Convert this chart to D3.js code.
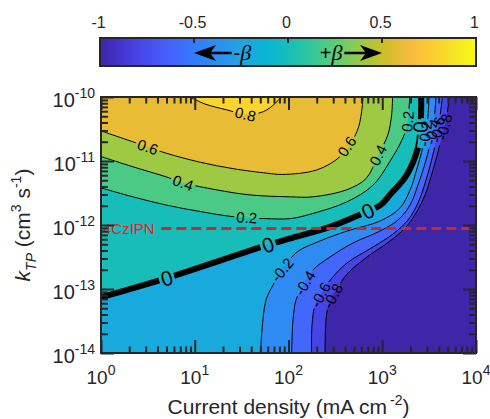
<!DOCTYPE html>
<html>
<head>
<meta charset="utf-8">
<script src="https://cdn.jsdelivr.net/npm/d3@7"></script>
<style>
  body { margin: 0; background: #fff; }
  svg { display: block; font-family: "Liberation Sans", Arial, sans-serif; }
</style>
</head>
<body>
<svg id="chart" width="490" height="419"></svg>
<script>
// ---- values ----
const levels = [-0.8, -0.6, -0.4, -0.2, 0, 0.2, 0.4, 0.6, 0.8];
const colorLimits = [-1, 1];
const cbTicks = [-1, -0.5, 0, 0.5, 1];
const cbTickLabels = ["-1", "-0.5", "0", "0.5", "1"];
const xDecades = [0, 1, 2, 3, 4];            // 10^n mA cm^-2
const yDecades = [-14, -13, -12, -11, -10];  // 10^n cm^3 s^-1

// contour lines, points are [log10 J, log10 kTP]
const lineM08 = [[2.389,-14],[2.400,-13.484],[2.432,-13.219],[2.507,-13.016],[2.635,-12.75],[2.837,-12.5],[3.083,-12.25],[3.243,-12.047],[3.360,-11.813],[3.456,-11.531],[3.541,-11.141],[3.627,-10.672],[3.690,-10.281],[3.712,-10]];
const lineM06 = [[2.247,-14],[2.251,-13.563],[2.283,-13.25],[2.357,-13.047],[2.464,-12.828],[2.624,-12.594],[2.901,-12.344],[3.115,-12.141],[3.275,-11.922],[3.381,-11.656],[3.467,-11.297],[3.552,-10.828],[3.610,-10.359],[3.642,-10]];
const lineM04 = [[2.034,-14],[2.048,-13.484],[2.080,-13.172],[2.144,-12.984],[2.261,-12.703],[2.443,-12.5],[2.688,-12.281],[2.976,-12.094],[3.168,-11.922],[3.296,-11.688],[3.381,-11.375],[3.467,-10.984],[3.540,-10.516],[3.573,-10]];
const lineM02 = [[1.703,-14],[1.717,-13.641],[1.760,-13.172],[1.835,-12.938],[1.931,-12.703],[2.091,-12.422],[2.336,-12.25],[2.624,-12.094],[2.976,-11.938],[3.189,-11.734],[3.296,-11.453],[3.381,-11.063],[3.450,-10.672],[3.488,-10.281],[3.498,-10]];
const lineZero = [[0,-13.13],[0.70,-12.83],[1.78,-12.31],[2.02,-12.21],[2.44,-12.03],[2.76,-11.84],[2.98,-11.69],[3.08,-11.53],[3.26,-11.22],[3.38,-10.80],[3.40,-10.62],[3.415,-10.20],[3.415,-10]];
const lineP02 = [[0,-11.42],[0.34,-11.56],[0.70,-11.69],[1.06,-11.79],[1.41,-11.87],[1.75,-11.90],[2.02,-11.90],[2.26,-11.82],[2.62,-11.64],[2.90,-11.38],[3.08,-11.01],[3.22,-10.64],[3.27,-10.39],[3.29,-10.08],[3.295,-10]];
const lineP04 = [[0,-10.93],[0.34,-11.09],[0.70,-11.25],[0.875,-11.34],[1.23,-11.45],[1.59,-11.53],[2.02,-11.56],[2.26,-11.56],[2.62,-11.45],[2.83,-11.27],[2.955,-10.91],[3.06,-10.59],[3.10,-10.28],[3.11,-10]];
const lineP06 = [[0,-10.53],[0.50,-10.78],[0.70,-10.88],[1.06,-11.02],[1.41,-11.12],[1.77,-11.19],[1.94,-11.21],[2.30,-11.14],[2.55,-10.93],[2.73,-10.54],[2.78,-10.23],[2.795,-10]];
const lineP08 = [[0.95,-10],[1.11,-10.11],[1.34,-10.20],[1.54,-10.27],[1.73,-10.23],[1.85,-10.11],[1.92,-10]];

// inline contour labels: [level, log10 J, log10 kTP]
const labelSpots = [
  [0.8, 1.54, -10.28],
  [0.6, 0.50, -10.78], [0.6, 2.62, -10.77],
  [0.4, 0.875, -11.34], [0.4, 2.955, -10.91],
  [0.2, 1.554, -11.92], [0.2, 3.275, -10.38],
  [0, 0.70, -12.83], [0, 1.78, -12.31], [0, 2.85, -11.79], [0, 3.41, -10.47],
  [-0.2, 1.93, -12.70], [-0.2, 3.49, -10.58],
  [-0.4, 2.18, -12.91], [-0.4, 3.56, -10.55],
  [-0.6, 2.34, -13.09], [-0.6, 3.63, -10.52],
  [-0.8, 2.49, -13.12], [-0.8, 3.70, -10.48]
];

// reference emitter line
const refK = 8.8e-13;
const refStartJ = 4.4;
const refName = "4CzIPN";

// ---- drawing ----
const svg = d3.select("#chart");
const W = +svg.attr("width"), H = +svg.attr("height");
const plotL = 101, plotR = 476, plotT = 97, plotB = 353;
const axisColor = "#262626";

const x = d3.scaleLog().domain([1e0, 1e4]).range([plotL, plotR]);
const y = d3.scaleLog().domain([1e-14, 1e-10]).range([plotB, plotT]);
const cb = d3.scaleLinear().domain(colorLimits).range([100, 476]);
const cbTop = 38, cbBot = 66;

// parula colormap
const parulaHex = ["#3e26a8","#4537d5","#484df0","#4563fd","#327cfc","#2b91ef","#20a5e3","#08b5d0",
                   "#19bfb6","#37c897","#64cd6f","#9dc943","#d1bf27","#f8ba3d","#fccf30","#f5e924","#f9fb15"];
const parulaPos = [0,4,8,12,16,20,24,28,32,36,40,44,48,52,56,60,63].map(r => r / 63);
const parula = d3.scaleLinear().domain(parulaPos).range(parulaHex)
  .interpolate(d3.interpolateRgb).clamp(true);
const colorOf = v => parula((v - colorLimits[0]) / (colorLimits[1] - colorLimits[0]));

const toPx = d => [x(Math.pow(10, d[0])), y(Math.pow(10, d[1]))];
const smooth = d3.line().curve(d3.curveCatmullRom.alpha(0.5));

const contourLines = [lineM08, lineM06, lineM04, lineM02, lineZero, lineP02, lineP04, lineP06, lineP08]
  .map((pts, i) => ({level: levels[i], pts: pts}));

const defs = svg.append("defs");
defs.append("clipPath").attr("id", "plotClip").append("rect")
  .attr("x", plotL).attr("y", plotT).attr("width", plotR - plotL).attr("height", plotB - plotT);
const mask = defs.append("mask").attr("id", "labelMask")
  .attr("maskUnits", "userSpaceOnUse").attr("x", 0).attr("y", 0).attr("width", W).attr("height", H);
mask.append("rect").attr("width", W).attr("height", H).attr("fill", "white");

// region above/left of a contour line, closed along the frame
function regionPath(pts) {
  let s = smooth(pts.map(toPx));
  let corners = [];
  if (pts[0][1] <= -14) corners = [[0, -10], [0, -14]];   // bottom edge -> top edge
  else if (pts[0][0] <= 0) corners = [[0, -10]];          // left edge -> top edge
  corners.forEach(c => { const q = toPx(c); s += "L" + q[0] + "," + q[1]; });
  return s + "Z";
}

const fills = svg.append("g").attr("clip-path", "url(#plotClip)");
fills.append("rect")
  .attr("x", plotL).attr("y", plotT).attr("width", plotR - plotL).attr("height", plotB - plotT)
  .attr("fill", colorOf(colorLimits[0]));
fills.selectAll("path.band")
  .data(contourLines)
  .join("path")
  .attr("class", "band")
  .attr("d", d => regionPath(d.pts))
  .attr("fill", d => colorOf(d.level));

const lineG = svg.append("g").attr("clip-path", "url(#plotClip)")
  .append("g").attr("mask", "url(#labelMask)");
lineG.selectAll("path")
  .data(contourLines)
  .join("path")
  .attr("d", d => smooth(d.pts.map(toPx)))
  .attr("fill", "none")
  .attr("stroke", "#000")
  .attr("stroke-width", d => d.level === 0 ? 6 : 1);

// reference line
svg.append("line")
  .attr("x1", x(refStartJ)).attr("x2", plotR)
  .attr("y1", y(refK)).attr("y2", y(refK))
  .attr("stroke", "#c8282e").attr("stroke-width", 3)
  .attr("stroke-dasharray", "10,5");
svg.append("text")
  .attr("x", plotL + 2).attr("y", y(refK) + 5)
  .attr("fill", "#e8202a").attr("font-size", 15)
  .text(refName);

// contour labels, rotated along the nearest segment
const labelG = svg.append("g");
labelSpots.forEach(([lev, lj, lk]) => {
  const line = contourLines.find(c => c.level === lev).pts.map(toPx);
  const p = toPx([lj, lk]);
  let best = null;
  for (let i = 0; i < line.length - 1; i++) {
    const a = line[i], b = line[i + 1];
    const dx = b[0] - a[0], dy = b[1] - a[1];
    let t = ((p[0] - a[0]) * dx + (p[1] - a[1]) * dy) / (dx * dx + dy * dy);
    t = Math.max(0, Math.min(1, t));
    const q = [a[0] + t * dx, a[1] + t * dy];
    const dist = Math.hypot(q[0] - p[0], q[1] - p[1]);
    if (!best || dist < best.dist) best = {dist: dist, q: q, ang: Math.atan2(dy, dx) * 180 / Math.PI};
  }
  let ang = best.ang;
  if (ang > 90) ang -= 180;
  if (ang < -90) ang += 180;
  const fs = lev === 0 ? 21 : 15;
  const tr = `translate(${best.q[0]},${best.q[1]}) rotate(${ang})`;
  const t = labelG.append("text")
    .attr("transform", tr)
    .attr("text-anchor", "middle")
    .attr("dy", "0.36em")
    .attr("font-size", fs)
    .attr("fill", "#000")
    .text(String(lev));
  const w = t.node().getComputedTextLength();
  mask.append("rect")
    .attr("transform", tr)
    .attr("x", -w / 2 - 2).attr("y", -fs * 0.42)
    .attr("width", w + 4).attr("height", fs * 0.84)
    .attr("fill", "black");
});

// ticks (inside, all four sides)
const xMajor = xDecades.map(e => Math.pow(10, e));
const xMinor = d3.merge(xDecades.slice(0, -1).map(e => d3.range(2, 10).map(m => m * Math.pow(10, e))));
const yMajor = yDecades.map(e => Math.pow(10, e));
const yMinor = d3.merge(yDecades.slice(0, -1).map(e => d3.range(2, 10).map(m => m * Math.pow(10, e))));

function tickRow(axis, pos, vals, len) {
  svg.append("g")
    .attr("transform", pos)
    .call(axis.tickValues(vals).tickSize(-len).tickSizeOuter(0).tickFormat(() => ""))
    .call(g => g.select(".domain").remove())
    .call(g => g.selectAll("line").attr("stroke", axisColor).attr("stroke-width", 2));
}
tickRow(d3.axisBottom(x), `translate(0,${plotB})`, xMajor, 13);
tickRow(d3.axisBottom(x), `translate(0,${plotB})`, xMinor, 6.5);
tickRow(d3.axisTop(x), `translate(0,${plotT})`, xMajor, 13);
tickRow(d3.axisTop(x), `translate(0,${plotT})`, xMinor, 6.5);
tickRow(d3.axisLeft(y), `translate(${plotL},0)`, yMajor, 13);
tickRow(d3.axisLeft(y), `translate(${plotL},0)`, yMinor, 7);
tickRow(d3.axisRight(y), `translate(${plotR},0)`, yMajor, 13);
tickRow(d3.axisRight(y), `translate(${plotR},0)`, yMinor, 7);

svg.append("rect")
  .attr("x", plotL).attr("y", plotT).attr("width", plotR - plotL).attr("height", plotB - plotT)
  .attr("fill", "none").attr("stroke", axisColor).attr("stroke-width", 2);

// tick labels
const xl = svg.append("g").attr("fill", axisColor).attr("font-size", 19);
xDecades.forEach(e => {
  const t = xl.append("text").attr("x", x(Math.pow(10, e))).attr("y", 384).attr("text-anchor", "middle");
  t.append("tspan").text("10");
  t.append("tspan").attr("dy", -9).attr("font-size", 14).text(e);
});
const yl = svg.append("g").attr("fill", axisColor).attr("font-size", 20);
yDecades.forEach(e => {
  const t = yl.append("text").attr("x", 95).attr("y", y(Math.pow(10, e)) + 10).attr("text-anchor", "end");
  t.append("tspan").text("10");
  t.append("tspan").attr("dy", -9).attr("font-size", 14).text(e);
});

// axis titles
const xt = svg.append("text")
  .attr("x", (plotL + plotR) / 2).attr("y", 414)
  .attr("text-anchor", "middle").attr("font-size", 21).attr("fill", axisColor);
xt.append("tspan").text("Current density (mA cm");
xt.append("tspan").attr("dx", 3).attr("dy", -9).attr("font-size", 14).text("-2");
xt.append("tspan").attr("dy", 9).text(")");

const yt = svg.append("text")
  .attr("transform", `translate(30,${(plotT + plotB) / 2}) rotate(-90)`)
  .attr("text-anchor", "middle").attr("font-size", 21).attr("fill", axisColor);
yt.append("tspan").attr("font-style", "italic").text("k");
yt.append("tspan").attr("font-style", "italic").attr("font-size", 14).attr("dy", 6).text("TP");
yt.append("tspan").attr("dy", -6).text(" (cm");
yt.append("tspan").attr("font-size", 14).attr("dy", -9).text("3");
yt.append("tspan").attr("dy", 9).text(" s");
yt.append("tspan").attr("font-size", 14).attr("dy", -9).text("-1");
yt.append("tspan").attr("dy", 9).text(")");

// colorbar
const grad = defs.append("linearGradient").attr("id", "parulaGrad")
  .attr("x1", 0).attr("x2", 1).attr("y1", 0).attr("y2", 0);
parulaHex.forEach((c, i) => grad.append("stop").attr("offset", parulaPos[i]).attr("stop-color", c));
svg.append("rect")
  .attr("x", cb(colorLimits[0])).attr("y", cbTop)
  .attr("width", cb(colorLimits[1]) - cb(colorLimits[0])).attr("height", cbBot - cbTop)
  .attr("fill", "url(#parulaGrad)")
  .attr("stroke", axisColor).attr("stroke-width", 2);
svg.append("g").selectAll("line")
  .data(cbTicks.slice(1, -1))
  .join("line")
  .attr("x1", d => cb(d)).attr("x2", d => cb(d))
  .attr("y1", cbTop).attr("y2", cbTop + 5)
  .attr("stroke", axisColor).attr("stroke-width", 2);
svg.append("g").selectAll("text")
  .data(cbTicks)
  .join("text")
  .attr("x", d => cb(d) - 1.5).attr("y", 28)
  .attr("text-anchor", "middle").attr("font-size", 16).attr("fill", axisColor)
  .text((d, i) => cbTickLabels[i]);

// beta arrows
function arrow(fromV, toV) {
  const x0 = cb(fromV), x1 = cb(toV), ya = 53, dir = Math.sign(x1 - x0);
  svg.append("line")
    .attr("x1", x0).attr("x2", x1 - dir * 14).attr("y1", ya).attr("y2", ya)
    .attr("stroke", "#000").attr("stroke-width", 2.5);
  svg.append("path")
    .attr("d", `M${x1},${ya}L${x1 - dir * 22},${ya - 8}L${x1 - dir * 16},${ya}L${x1 - dir * 22},${ya + 8}Z`)
    .attr("fill", "#000");
}
arrow(-0.3, -0.5);
arrow(0.3, 0.5);
const bm = svg.append("text").attr("x", cb(-0.29)).attr("y", 60).attr("font-size", 20).attr("fill", "#000");
bm.append("tspan").text("-");
bm.append("tspan").attr("font-family", "Liberation Serif").attr("font-style", "italic").attr("font-size", 22).text("β");
const bp = svg.append("text").attr("x", cb(0.29)).attr("y", 60).attr("font-size", 20).attr("fill", "#000")
  .attr("text-anchor", "end");
bp.append("tspan").text("+");
bp.append("tspan").attr("font-family", "Liberation Serif").attr("font-style", "italic").attr("font-size", 22).text("β");
</script>
</body>
</html>
